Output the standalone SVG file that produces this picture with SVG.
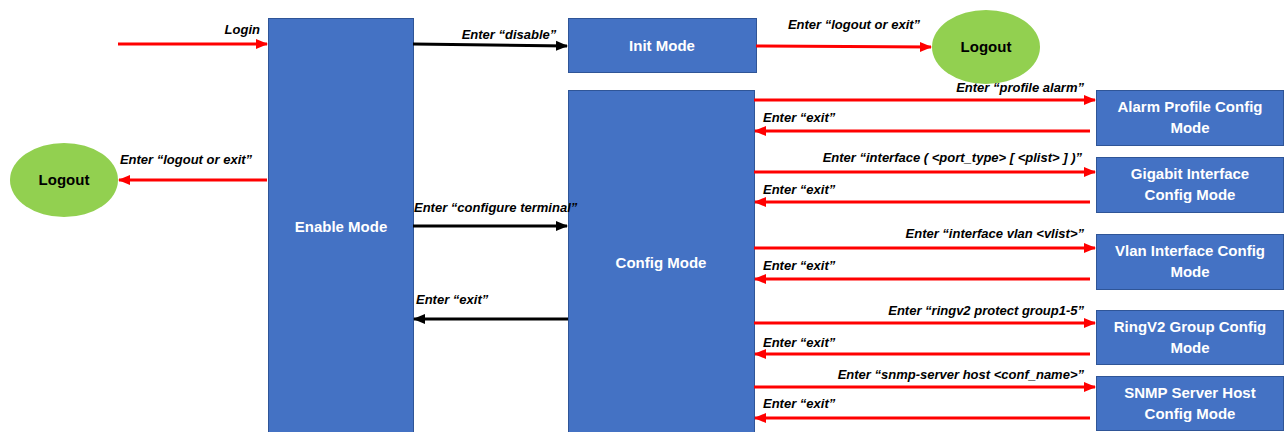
<svg xmlns="http://www.w3.org/2000/svg" width="1285" height="432" viewBox="0 0 1285 432">
<style>
.box{fill:#4472C4;stroke:#2F5597;stroke-width:1}
.ell{fill:#92D050}
.bt{font-family:"Liberation Sans",Arial,sans-serif;font-weight:bold;font-size:15px;fill:#fff;text-anchor:middle}
.et{font-family:"Liberation Sans",Arial,sans-serif;font-weight:bold;font-size:15px;fill:#000;text-anchor:middle}
.lb{font-family:"Liberation Sans",Arial,sans-serif;font-weight:bold;font-style:italic;font-size:13px;fill:#000}
.r{stroke:#FF0000;stroke-width:3;fill:none;marker-end:url(#ar)}
.k{stroke:#000;stroke-width:3;fill:none;marker-end:url(#ak)}
</style>
<defs>
<marker id="ar" markerUnits="userSpaceOnUse" markerWidth="12" markerHeight="12" refX="11" refY="6" orient="auto"><path d="M0,1 L12,6 L0,11 Z" fill="#FF0000"/></marker>
<marker id="ak" markerUnits="userSpaceOnUse" markerWidth="12" markerHeight="12" refX="11" refY="6" orient="auto"><path d="M0,1 L12,6 L0,11 Z" fill="#000"/></marker>
</defs>
<rect width="1285" height="432" fill="#fff"/>
<g id="enable"><rect class="box" x="268.5" y="18.5" width="145" height="420"/><text class="bt" x="341" y="232">Enable Mode</text></g>
<g id="init"><rect class="box" x="568.5" y="18.5" width="188" height="54"/><text class="bt" x="662" y="51">Init Mode</text></g>
<g id="config"><rect class="box" x="568.5" y="90.5" width="186" height="350"/><text class="bt" x="661" y="268">Config Mode</text></g>
<g id="logout1"><ellipse class="ell" cx="986" cy="47" rx="54" ry="37"/><text class="et" x="986" y="52">Logout</text></g>
<g id="logout2"><ellipse class="ell" cx="64" cy="180" rx="54" ry="37"/><text class="et" x="64" y="185">Logout</text></g>
<g id="alarm"><rect class="box" x="1096.5" y="90.5" width="187" height="55"/><text class="bt" x="1190" y="112">Alarm Profile Config</text><text class="bt" x="1190" y="133">Mode</text></g>
<g id="gigabit"><rect class="box" x="1096.5" y="157.5" width="187" height="55"/><text class="bt" x="1190" y="179">Gigabit Interface</text><text class="bt" x="1190" y="200">Config Mode</text></g>
<g id="vlan"><rect class="box" x="1096.5" y="234.5" width="187" height="55"/><text class="bt" x="1190" y="256">Vlan Interface Config</text><text class="bt" x="1190" y="277">Mode</text></g>
<g id="ringv2"><rect class="box" x="1096.5" y="310.5" width="187" height="54"/><text class="bt" x="1190" y="332">RingV2 Group Config</text><text class="bt" x="1190" y="353">Mode</text></g>
<g id="snmp"><rect class="box" x="1096.5" y="376.5" width="187" height="54"/><text class="bt" x="1190" y="398">SNMP Server Host</text><text class="bt" x="1190" y="419">Config Mode</text></g>
<g id="connectors">
<path class="r" d="M118,44 H267"/>
<text class="lb" x="260" y="34" text-anchor="end">Login</text>
<path class="k" d="M413,44 L567,46"/>
<text class="lb" x="509" y="39" text-anchor="middle">Enter “disable”</text>
<path class="r" d="M756,46 L931,47"/>
<text class="lb" x="854" y="29" text-anchor="middle">Enter “logout or exit”</text>
<path class="r" d="M267,180 H119"/>
<text class="lb" x="186" y="164" text-anchor="middle">Enter “logout or exit”</text>
<path class="k" d="M413,226 H567"/>
<text class="lb" x="414" y="212">Enter “configure terminal”</text>
<path class="k" d="M568,319 H414"/>
<text class="lb" x="416" y="304">Enter “exit”</text>
<path class="r" d="M754,100 H1095"/>
<text class="lb" x="1084" y="92" text-anchor="end">Enter “profile alarm”</text>
<path class="r" d="M1090,131 H755"/>
<text class="lb" x="763" y="122">Enter “exit”</text>
<path class="r" d="M754,172 H1095"/>
<text class="lb" x="1082" y="162" text-anchor="end">Enter “interface ( &lt;port_type&gt; [ &lt;plist&gt; ] )”</text>
<path class="r" d="M1090,202 H755"/>
<text class="lb" x="763" y="194">Enter “exit”</text>
<path class="r" d="M754,248 H1095"/>
<text class="lb" x="1084" y="238" text-anchor="end">Enter “interface vlan &lt;vlist&gt;”</text>
<path class="r" d="M1090,279 H755"/>
<text class="lb" x="763" y="270">Enter “exit”</text>
<path class="r" d="M754,323 H1095"/>
<text class="lb" x="1084" y="315" text-anchor="end">Enter “ringv2 protect group1-5”</text>
<path class="r" d="M1090,354 H755"/>
<text class="lb" x="763" y="347">Enter “exit”</text>
<path class="r" d="M754,387 H1095"/>
<text class="lb" x="1084" y="379" text-anchor="end">Enter “snmp-server host &lt;conf_name&gt;”</text>
<path class="r" d="M1090,418 H755"/>
<text class="lb" x="763" y="408">Enter “exit”</text>
</g>
</svg>
